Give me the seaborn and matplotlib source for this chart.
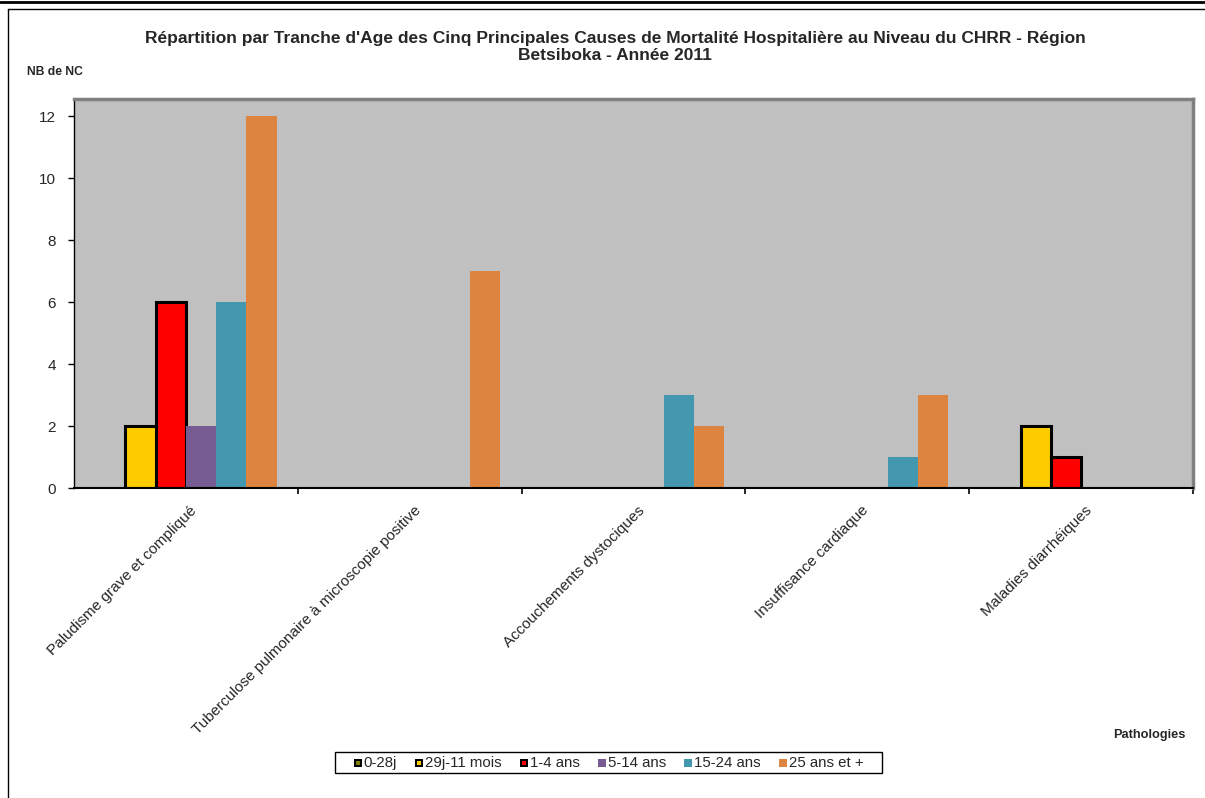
import matplotlib
matplotlib.use("Agg")
import matplotlib.pyplot as plt
import matplotlib.transforms as mtransforms
import seaborn as sns
import pandas as pd
from matplotlib.lines import Line2D
from matplotlib.patches import Rectangle

categories = ["Paludisme grave et compliqué",
              "Tuberculose pulmonaire à microscopie positive",
              "Accouchements dystociques",
              "Insuffisance cardiaque",
              "Maladies diarrhéiques"]
age_groups = ["0-28j", "29j-11 mois", "1-4 ans", "5-14 ans", "15-24 ans", "25 ans et +"]
v_0_28j = [0, 0, 0, 0, 0]
v_29j_11m = [2, 0, 0, 0, 2]
v_1_4 = [6, 0, 0, 0, 1]
v_5_14 = [2, 0, 0, 0, 0]
v_15_24 = [6, 0, 3, 1, 0]
v_25p = [12, 7, 2, 3, 0]
yticks = [0, 2, 4, 6, 8, 10, 12]

colors = ["#808000", "#FFCC00", "#FF0000", "#775C93", "#4398B0", "#DD8540"]
edged = [True, True, True, False, False, False]

series = [v_0_28j, v_29j_11m, v_1_4, v_5_14, v_15_24, v_25p]
rows = []
for g, vals in zip(age_groups, series):
    for c, v in zip(categories, vals):
        rows.append({"Pathologie": c, "Age": g, "NB": v})
df = pd.DataFrame(rows)

sns.set_theme(style="white")
plt.rcParams['font.family'] = ['Liberation Sans', 'DejaVu Sans']

W, H = 1205, 798
fig = plt.figure(figsize=(W/100, H/100), dpi=100)
ax = fig.add_axes([74/W, 1 - 488/H, (1193-74)/W, (488-99)/H])

sns.barplot(data=df, x="Pathologie", y="NB", hue="Age", order=categories,
            hue_order=age_groups, palette=colors, width=0.81, gap=0,
            saturation=1, ax=ax, legend=False, errorbar=None)

for cont, ed in zip(ax.containers, edged):
    for bar in cont:
        if ed and bar.get_height() > 0:
            bar.set_edgecolor("black")
            bar.set_linewidth(2.2)
        else:
            bar.set_linewidth(0)

ax.set_facecolor("#C0C0C0")
ax.set_xlim(-0.5, 4.5)
ax.set_ylim(0, 12.55)
ax.set_yticks(yticks)
ax.set_yticklabels([str(t) for t in yticks], fontsize=11)
ax.tick_params(axis="y", direction="out", length=4, width=1, color="black", left=True, pad=9)
ax.set_xticks([0, 1, 2, 3, 4])
ax.set_xticklabels(categories, rotation=45, ha="right", rotation_mode="anchor", fontsize=11)
ax.tick_params(axis="x", length=0, pad=11)
offset = mtransforms.ScaledTranslation(4/100, 0, fig.dpi_scale_trans)
for lab in ax.get_xticklabels():
    lab.set_transform(lab.get_transform() + offset)
# category boundary ticks
ax.set_xticks([0.5, 1.5, 2.5, 3.5, 4.5], minor=True)
ax.tick_params(axis="x", which="minor", direction="out", length=4, width=1.2, color="black", bottom=True)
ax.set_xlabel("")
ax.set_ylabel("")

for s in ["top", "right"]:
    ax.spines[s].set_color("#808080")
    ax.spines[s].set_linewidth(2.5)
ax.spines["left"].set_color("black")
ax.spines["left"].set_linewidth(1)
ax.spines["bottom"].set_color("black")
ax.spines["bottom"].set_linewidth(1.5)
ax.spines["bottom"].set_zorder(5)

fig.text(615/W, 1 - 47/H,
         "Répartition par Tranche d'Age des Cinq Principales Causes de Mortalité Hospitalière au Niveau du CHRR - Région\nBetsiboka - Année 2011",
         ha="center", va="center", fontsize=12.5, fontweight="bold", linespacing=1.25)
fig.text(27/W, 1 - 72/H, "NB de NC", ha="left", va="center", fontsize=8.7, fontweight="bold")
fig.text(1185/W, 1 - 735/H, "Pathologies", ha="right", va="center", fontsize=9.2, fontweight="bold")

# legend drawn manually (consistent baselines, Excel-like spacing)
renderer = fig.canvas.get_renderer()
baseline_y = 1 - 767/H
marker_sz = 8
gap_mt = 2
gap_items = 18
texts = []
widths = []
for g in age_groups:
    t = fig.text(0, baseline_y, g, ha="left", va="baseline", fontsize=10.8)
    texts.append(t)
    widths.append(t.get_window_extent(renderer).width)
total = sum(widths) + len(age_groups) * (marker_sz + gap_mt) + (len(age_groups) - 1) * gap_items
x = 608.5 - total / 2
for t, w, c, ed in zip(texts, widths, colors, edged):
    my = 762.5 - marker_sz / 2
    if ed:
        fig.add_artist(Rectangle((x/W, 1 - (my + marker_sz)/H), marker_sz/W, marker_sz/H,
                                 transform=fig.transFigure, facecolor="black", edgecolor="none"))
        fig.add_artist(Rectangle(((x + 2)/W, 1 - (my + marker_sz - 2)/H), (marker_sz - 4)/W, (marker_sz - 4)/H,
                                 transform=fig.transFigure, facecolor=c, edgecolor="none"))
    else:
        fig.add_artist(Rectangle((x/W, 1 - (my + marker_sz)/H), marker_sz/W, marker_sz/H,
                                 transform=fig.transFigure, facecolor=c, edgecolor="none"))
    t.set_x((x + marker_sz + gap_mt)/W)
    x += marker_sz + gap_mt + w + gap_items
fig.add_artist(Rectangle((335/W, 1 - 773/H), 547/W, 21/H, transform=fig.transFigure,
                         facecolor="none", edgecolor="black", linewidth=1))

# figure frame lines
fig.add_artist(Line2D([0, 1], [1 - 1.5/H, 1 - 1.5/H], color="black", linewidth=2, transform=fig.transFigure))
fig.add_artist(Line2D([8/W, 1], [1 - 9/H, 1 - 9/H], color="black", linewidth=1, transform=fig.transFigure))
fig.add_artist(Line2D([8/W, 8/W], [1 - 9/H, 0], color="black", linewidth=1, transform=fig.transFigure))

fig.savefig("out.png", dpi=100)
